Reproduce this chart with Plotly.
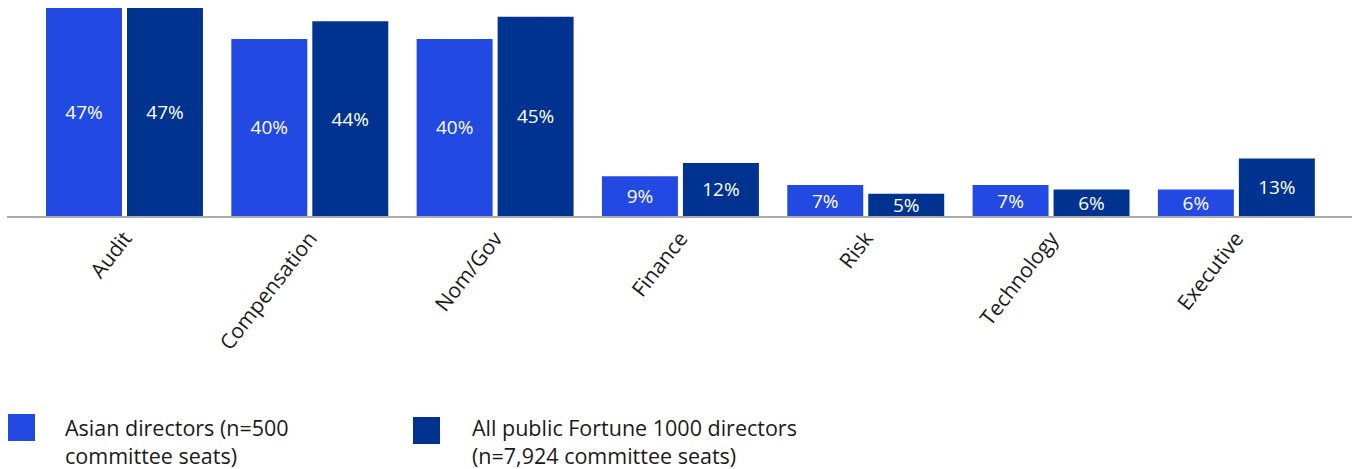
import plotly.graph_objects as go

categories = ["Audit", "Compensation", "Nom/Gov", "Finance", "Risk", "Technology", "Executive"]
asian = [47, 40, 40, 9, 7, 7, 6]
all_f1000 = [47, 44, 45, 12, 5, 6, 13]
series_names = ["Asian directors (n=500<br>committee seats)",
                "All public Fortune 1000 directors<br>(n=7,924 committee seats)"]
colors = ["#2249E1", "#00338F"]

FONT = "Open Sans"
PW, PH, ML, MT = 1345, 208, 7, 8

fig = go.Figure()
for vals, col, name in [(asian, colors[0], series_names[0]), (all_f1000, colors[1], series_names[1])]:
    fig.add_trace(go.Bar(
        x=categories, y=vals, name=name,
        marker=dict(color=col, line=dict(width=0)),
        text=[f"{v}%" for v in vals],
        textposition="inside", insidetextanchor="middle",
        textfont=dict(color="white", size=19, family=FONT),
        constraintext="none",
        showlegend=False,
    ))

# legend drawn as swatches + text
legend_items = [(8, 63, colors[0], series_names[0], 414), (413, 470, colors[1], series_names[1], 417)]
for sx, tx, col, name, sy in legend_items:
    fig.add_shape(type="rect", xref="paper", yref="paper",
                  x0=(sx - ML) / PW, x1=(sx + 27 - ML) / PW,
                  y0=1 - (sy - MT) / PH, y1=1 - (sy + 27 - MT) / PH,
                  fillcolor=col, line=dict(width=0))
    fig.add_annotation(xref="paper", yref="paper", x=(tx - ML) / PW, y=1 - (411 - MT) / PH,
                       xanchor="left", yanchor="top", align="left", showarrow=False,
                       text=name, font=dict(size=21.5, color="#1a1a1a", family=FONT))

fig.update_layout(
    width=1354, height=469,
    margin=dict(l=ML, r=1354 - ML - PW, t=MT, b=469 - MT - PH),
    paper_bgcolor="white", plot_bgcolor="white",
    barmode="group", bargap=0.126, bargroupgap=0.062,
    font=dict(family=FONT, color="#1a1a1a"),
    xaxis=dict(range=[-0.634, 6.624], showline=True, linecolor="#aaaaaa", linewidth=1.5,
               ticks="", tickangle=-52, automargin=False,
               tickfont=dict(size=21, color="#1a1a1a", family=FONT)),
    yaxis=dict(range=[0, 47], showgrid=False, showticklabels=False, zeroline=False,
               showline=False, automargin=False),
)

fig.write_html("out.html", config={"displayModeBar": False},
               post_script="document.body.style.margin='0';")
